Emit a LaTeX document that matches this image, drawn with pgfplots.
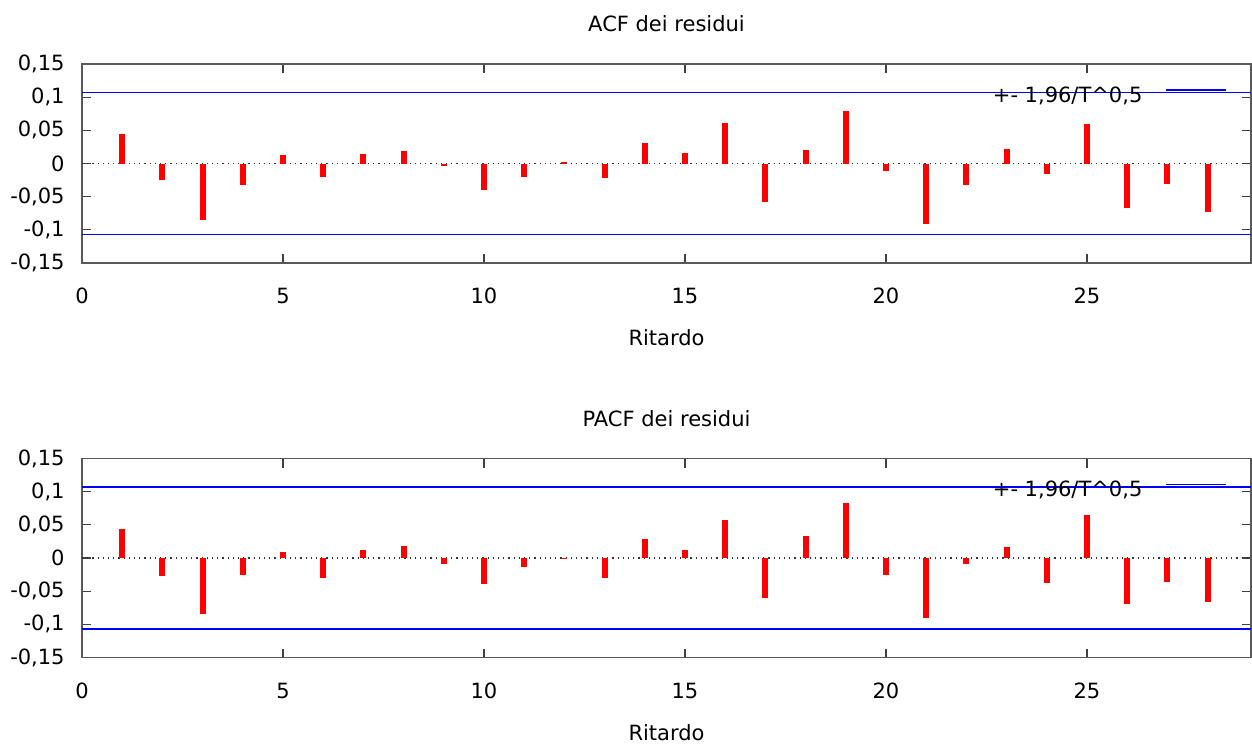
\documentclass[border=0pt]{standalone}
\usepackage{fontspec}
\setmainfont{DejaVu Sans}
\usepackage{pgfplots}
\pgfplotsset{compat=1.18}
\usepackage{pgfplotstable}

\pgfplotstableread{
lag acf pacf
1 0.0444 0.0442
2 -0.0253 -0.0274
3 -0.0854 -0.0848
4 -0.0328 -0.0259
5 0.0121 0.0096
6 -0.0207 -0.0305
7 0.0141 0.0117
8 0.0187 0.0178
9 -0.0035 -0.0086
10 -0.0404 -0.0396
11 -0.0207 -0.0137
12 0.0030 -0.0010
13 -0.0222 -0.0305
14 0.0307 0.0284
15 0.0151 0.0117
16 0.0614 0.0569
17 -0.0574 -0.0599
18 0.0201 0.0335
19 0.0786 0.0827
20 -0.0111 -0.0259
21 -0.0912 -0.0909
22 -0.0327 -0.0086
23 0.0217 0.0162
24 -0.0156 -0.0381
25 0.0599 0.0645
26 -0.0665 -0.0690
27 -0.0312 -0.0365
28 -0.0730 -0.0665
}\datatable

\pgfplotsset{
  myaxis/.style={
    scale only axis,
    width=584.5pt, height=99.5pt,
    xmin=0, xmax=29.08,
    ymin=-0.15, ymax=0.15,
    xtick={0,5,10,15,20,25},
    xticklabels={0,5,10,15,20,25},
    ytick={-0.15,-0.1,-0.05,0,0.05,0.1,0.15},
    yticklabels={-0{,}15,-0{,}1,-0{,}05,0,0{,}05,0{,}1,0{,}15},
    tick align=inside,
    major tick length=4.5pt,
    axis line style={draw=black!65, line width=0.6pt},
    every tick/.style={black!75, line width=0.6pt},
    xticklabel style={anchor=center, yshift=-16.5pt},
    yticklabel style={anchor=east, xshift=-5pt},
    title style={at={(axis description cs:0.5,1)}, anchor=center, yshift=14pt},
    every axis x label/.style={at={(axis description cs:0.5,0)}, anchor=center, yshift=-37.5pt},
    xlabel={Ritardo},
    legend plot pos=right,
    legend style={draw=none, fill=none, inner sep=0pt, column sep=9.5pt,
      at={(axis description cs:1,1)}, anchor=east, xshift=-12pt, yshift=-16pt},
    legend image code/.code={\draw[#1] (0pt,3pt) -- (30pt,3pt);},
  }
}

\begin{document}
\fontsize{10.5pt}{12.6pt}\selectfont
\begin{tikzpicture}
\useasboundingbox (-41pt,32pt) rectangle (585pt,-340pt);
\begin{axis}[myaxis, at={(0,0)}, anchor=north west, title={ACF dei residui}]
  \addplot[black!80, dotted, line width=0.6pt, forget plot] coordinates {(0,0) (29.08,0)};
  \addplot[red, ycomb, line width=3pt, mark=none, forget plot] table[x=lag, y=acf] {\datatable};
  \addplot[blue, line width=0.6pt] coordinates {(0,0.107) (29.08,0.107)};
  \addlegendentry{+- 1,96/T\^{}0,5}
  \addplot[blue, line width=0.6pt, forget plot] coordinates {(0,-0.107) (29.08,-0.107)};
\end{axis}
\begin{axis}[myaxis, at={(0,-197.25pt)}, anchor=north west, title={PACF dei residui}]
  \addplot[black!80, dotted, line width=0.6pt, forget plot] coordinates {(0,0) (29.08,0)};
  \addplot[red, ycomb, line width=3pt, mark=none, forget plot] table[x=lag, y=pacf] {\datatable};
  \addplot[blue, line width=0.6pt] coordinates {(0,0.107) (29.08,0.107)};
  \addlegendentry{+- 1,96/T\^{}0,5}
  \addplot[blue, line width=0.6pt, forget plot] coordinates {(0,-0.107) (29.08,-0.107)};
\end{axis}
\end{tikzpicture}
\end{document}
